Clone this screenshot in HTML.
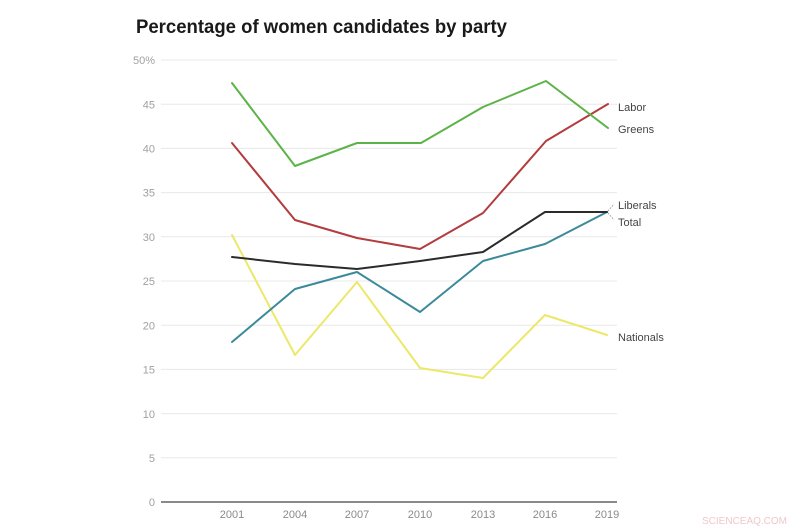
<!DOCTYPE html>
<html><head><meta charset="utf-8"><style>
html,body{margin:0;padding:0;background:#fff;}
svg{display:block;}
</style></head><body>
<svg width="800" height="530" viewBox="0 0 800 530" xmlns="http://www.w3.org/2000/svg">
<rect width="800" height="530" fill="#fff"/>
<text x="136" y="33" font-family="Liberation Sans, sans-serif" font-weight="bold" font-size="19.5" fill="#1a1a1a" textLength="371" lengthAdjust="spacingAndGlyphs">Percentage of women candidates by party</text>
<g stroke="#e8e8e8" stroke-width="1">
<line x1="161" y1="60" x2="617" y2="60"/>
<line x1="161" y1="104.2" x2="617" y2="104.2"/>
<line x1="161" y1="148.4" x2="617" y2="148.4"/>
<line x1="161" y1="192.6" x2="617" y2="192.6"/>
<line x1="161" y1="236.8" x2="617" y2="236.8"/>
<line x1="161" y1="281" x2="617" y2="281"/>
<line x1="161" y1="325.2" x2="617" y2="325.2"/>
<line x1="161" y1="369.4" x2="617" y2="369.4"/>
<line x1="161" y1="413.6" x2="617" y2="413.6"/>
<line x1="161" y1="457.8" x2="617" y2="457.8"/>
</g>
<line x1="161" y1="502" x2="617" y2="502" stroke="#444" stroke-width="1.3"/>
<g font-family="Liberation Sans, sans-serif" font-size="11" fill="#a0a0a0" text-anchor="end">
<text x="155" y="64">50%</text>
<text x="155" y="108.5">45</text>
<text x="155" y="152.5">40</text>
<text x="155" y="196.5">35</text>
<text x="155" y="241">30</text>
<text x="155" y="285">25</text>
<text x="155" y="329.5">20</text>
<text x="155" y="373.5">15</text>
<text x="155" y="418">10</text>
<text x="155" y="462">5</text>
<text x="155" y="506">0</text>
</g>
<g font-family="Liberation Sans, sans-serif" font-size="11" fill="#8a8a8a" text-anchor="middle">
<text x="232" y="518">2001</text>
<text x="295" y="518">2004</text>
<text x="357" y="518">2007</text>
<text x="420" y="518">2010</text>
<text x="483" y="518">2013</text>
<text x="545" y="518">2016</text>
<text x="607" y="518">2019</text>
</g>
<g fill="none" stroke-width="2" stroke-linejoin="round" stroke-linecap="round">
<polyline stroke="#ebe86a" points="232,235 295,355 357,282 420,368 483,378 545,315 607,335"/>
<polyline stroke="#3b8a9a" points="232,342 295,289 357,272 420,312 483,261 545,244 607,212"/>
<polyline stroke="#2b2b2b" points="232,257 295,264 357,269 420,261 483,252 545,212 607,212"/>
<polyline stroke="#b23c3e" points="232,143 295,220 357,238 420,249 483,213 546,141 608,104"/>
<polyline stroke="#5cb347" points="232,83 295,166 357,143 421,143 483,107 546,81 608,128"/>
</g>
<g stroke="#999" stroke-width="1" stroke-dasharray="1.5,1.5" fill="none">
<line x1="608" y1="211" x2="614" y2="204"/>
<line x1="608" y1="213" x2="614" y2="220"/>
</g>
<g font-family="Liberation Sans, sans-serif" font-size="11" fill="#444">
<text x="618" y="111">Labor</text>
<text x="618" y="133">Greens</text>
<text x="618" y="209">Liberals</text>
<text x="618" y="226">Total</text>
<text x="618" y="341">Nationals</text>
</g>
<text x="702" y="524" font-family="Liberation Sans, sans-serif" font-size="10" fill="#f0c8cc">SCIENCEAQ.COM</text>
</svg>
</body></html>
